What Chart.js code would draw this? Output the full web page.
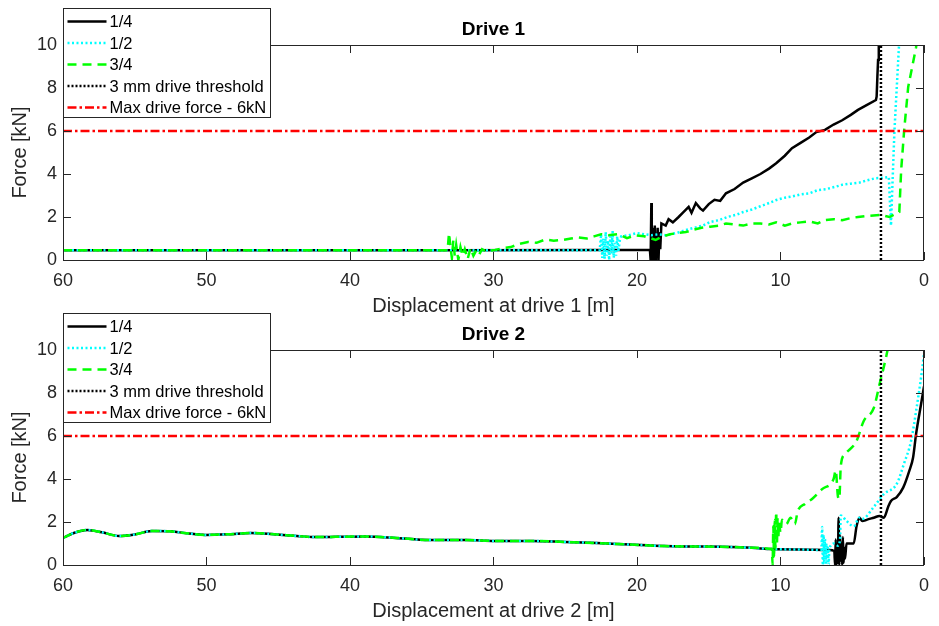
<!DOCTYPE html>
<html>
<head>
<meta charset="utf-8">
<title>Drive force vs displacement</title>
<script src="https://cdn.jsdelivr.net/npm/chart.js@4.4.1/dist/chart.umd.min.js"></script>
<style>
  html, body { margin: 0; padding: 0; background: #fff; }
  #wrap { position: relative; width: 939px; height: 626px; }
  canvas { position: absolute; left: 0; }
  #drive1 { top: 0; }
  #drive2 { top: 305px; }
</style>
</head>
<body>
<div id="wrap">
  <canvas id="drive1" width="939" height="320"></canvas>
  <canvas id="drive2" width="939" height="320"></canvas>
</div>
<script>
// ===== DATA =====
const seriesLabels = ["1/4", "1/2", "3/4", "3 mm drive threshold", "Max drive force - 6kN"];
const xTicks = [60, 50, 40, 30, 20, 10, 0];
const yTicks = [0, 2, 4, 6, 8, 10];

// Drive 1
const d1QuarterDisp = [60, 40, 33, 22.4, 19.35, 19.1, 19.05, 19.0, 18.97, 18.92, 18.88, 18.84, 18.8, 18.76, 18.72, 18.68, 18.62, 18.56, 18.5, 18.44, 18.38, 18.3, 18.0, 17.8, 17.5, 17.1, 16.8, 16.4, 16.2, 15.9, 15.6, 15.4, 15.0, 14.6, 14.2, 13.8, 13.2, 12.6, 12.0, 11.4, 10.8, 10.3, 9.7, 9.2, 8.6, 8.0, 7.5, 6.9, 6.3, 5.7, 5.1, 4.6, 4.0, 3.35, 3.3, 3.25, 3.2, 3.15];
const d1QuarterForce = [0.45, 0.45, 0.45, 0.47, 0.47, 0.47, 0.0, 2.65, 0.3, 1.5, 0.0, 1.2, 0.2, 1.6, 0.0, 1.1, 0.4, 1.5, 0.0, 1.3, 0.5, 1.7, 1.6, 1.9, 1.75, 2.0, 2.2, 2.47, 2.2, 2.65, 2.4, 2.3, 2.6, 2.8, 2.75, 3.1, 3.3, 3.6, 3.8, 4.0, 4.25, 4.5, 4.85, 5.2, 5.45, 5.7, 5.95, 6.05, 6.3, 6.5, 6.75, 6.98, 7.2, 7.44, 7.6, 8.5, 9.3, 10.5];

const d1HalfDisp = [60, 40, 22.6, 22.5, 22.42, 22.34, 22.26, 22.18, 22.1, 22.02, 21.94, 21.86, 21.78, 21.7, 21.62, 21.54, 21.46, 21.38, 21.3, 21.2, 21.1, 20.6, 20.0, 19.5, 19.0, 18.5, 18.0, 17.2, 16.6, 16.0, 15.4, 14.9, 14.3, 13.7, 13.1, 12.6, 12.0, 11.4, 10.8, 10.3, 9.7, 9.2, 8.6, 8.0, 7.4, 6.8, 6.2, 5.7, 5.1, 4.5, 4.0, 3.4, 2.9, 2.45, 2.3, 2.2, 2.06, 1.9, 1.7];
const d1HalfForce = [0.45, 0.45, 0.45, 1.2, 0.1, 1.0, 0.05, 1.3, 0.2, 0.9, 0.0, 1.1, 0.3, 1.35, 0.1, 0.8, 0.2, 1.1, 0.4, 0.9, 1.1, 1.15, 1.25, 1.2, 1.15, 1.2, 1.15, 1.26, 1.4, 1.5, 1.6, 1.77, 1.85, 2.0, 2.1, 2.23, 2.35, 2.5, 2.65, 2.79, 2.9, 2.95, 3.05, 3.1, 3.25, 3.3, 3.4, 3.5, 3.55, 3.6, 3.7, 3.8, 3.82, 3.86, 1.6, 3.5, 6.0, 8.0, 10.5];

const d1ThreeQDisp = [60, 40, 33.2, 33.1, 33.0, 32.9, 32.8, 32.7, 32.6, 32.45, 32.3, 32.15, 32.0, 31.8, 31.6, 31.4, 31.2, 31.0, 30.8, 30.5, 29.9, 29.3, 28.8, 28.2, 27.6, 27.0, 26.4, 25.8, 25.2, 24.6, 24.1, 23.5, 23.0, 22.5, 22.0, 21.3, 20.7, 20.1, 19.5, 19.0, 18.7, 18.3, 17.7, 17.2, 16.6, 16.1, 15.5, 14.9, 14.3, 13.8, 13.2, 12.6, 12.0, 11.4, 10.8, 10.3, 9.7, 9.2, 8.6, 8.0, 7.4, 6.9, 6.3, 5.7, 5.1, 4.6, 4.0, 3.0, 2.4, 1.8, 1.72, 1.59, 1.38, 1.1, 0.55, 0.45];
const d1ThreeQForce = [0.45, 0.45, 0.45, 1.25, 0.6, 0.1, 0.9, 0.2, 0.7, 0.0, 0.6, 0.2, 0.5, 0.05, 0.55, 0.2, 0.45, 0.25, 0.5, 0.4, 0.47, 0.55, 0.6, 0.75, 0.84, 0.8, 0.95, 0.9, 0.93, 1.0, 1.05, 1.0, 1.1, 1.2, 1.15, 1.2, 1.02, 1.15, 1.1, 1.0, 0.93, 1.07, 1.2, 1.25, 1.3, 1.4, 1.5, 1.55, 1.6, 1.7, 1.65, 1.6, 1.7, 1.7, 1.65, 1.75, 1.6, 1.7, 1.75, 1.8, 1.7, 1.86, 1.9, 1.85, 1.95, 2.0, 2.05, 2.1, 2.0, 2.2, 2.23, 4.19, 6.05, 8.05, 9.9, 10.5];

// Drive 2 - common start of all three curves, then each tail
const d2BaseDisp = [60, 59.2, 58.3, 57.3, 56.1, 55.0, 53.8, 52.6, 51.4, 50.1, 48.5, 46.9, 45.3, 43.7, 42.5, 41.0, 39.0, 36.8, 34.5, 31.9, 29.9, 27.3, 25.0, 22.8, 20.5, 18.1, 15.8, 13.5, 12.0, 10.6];
const d2BaseForce = [1.26, 1.5, 1.63, 1.52, 1.35, 1.42, 1.58, 1.57, 1.48, 1.4, 1.43, 1.49, 1.43, 1.35, 1.3, 1.31, 1.33, 1.26, 1.16, 1.16, 1.12, 1.12, 1.07, 1.02, 0.95, 0.88, 0.86, 0.84, 0.8, 0.74];

const d2QuarterDisp = [8.5, 6.6, 6.25, 6.2, 6.15, 6.1, 6.05, 6.0, 5.95, 5.9, 5.85, 5.8, 5.75, 5.7, 5.65, 5.6, 5.55, 5.5, 5.4, 4.9, 4.7, 4.5, 4.3, 4.0, 3.5, 3.1, 2.8, 2.5, 2.3, 1.9, 1.45, 1.03, 0.76, 0.55, 0.2, 0.0];
const d2QuarterForce = [0.72, 0.7, 0.65, 0.0, 1.2, 0.0, 0.9, 0.1, 2.2, 0.0, 1.4, 0.2, 1.0, 0.0, 1.3, 0.1, 0.8, 0.3, 1.0, 1.0, 1.8, 2.2, 2.05, 2.1, 2.2, 2.28, 2.2, 2.7, 2.98, 3.16, 3.6, 4.37, 5.0, 6.1, 7.5, 8.3];

const d2HalfDisp = [8.5, 7.15, 7.1, 7.05, 7.0, 6.95, 6.9, 6.85, 6.8, 6.75, 6.7, 6.65, 6.6, 6.5, 6.3, 6.0, 5.85, 5.8, 5.4, 4.9, 4.5, 4.3, 3.5, 2.8, 1.9, 1.4, 0.9, 0.55, 0.2, 0.0];
const d2HalfForce = [0.72, 0.7, 1.77, 0.0, 1.4, 0.1, 1.2, 0.0, 1.0, 0.2, 0.8, 0.0, 0.7, 0.9, 1.0, 0.9, 1.2, 2.3, 2.05, 1.8, 2.2, 2.14, 2.7, 3.3, 3.77, 4.7, 5.77, 7.16, 8.74, 9.8];

const d2ThreeQDisp = [10.55, 10.5, 10.45, 10.4, 10.35, 10.3, 10.25, 10.2, 10.15, 10.1, 10.0, 9.9, 9.6, 9.3, 9.0, 8.8, 8.3, 7.8, 7.1, 6.3, 6.15, 6.0, 5.9, 5.8, 5.5, 4.7, 4.2, 3.5, 3.1, 2.6, 2.4];
const d2ThreeQForce = [0.0, 1.8, 0.4, 2.1, 0.8, 2.47, 1.0, 2.2, 1.3, 2.0, 1.5, 2.1, 1.9, 2.2, 1.9, 2.5, 2.84, 3.07, 3.53, 4.0, 4.4, 3.2, 3.07, 4.6, 5.16, 5.77, 6.7, 7.3, 8.4, 9.8, 10.5];

// reference lines
const thresholdDisp = [3, 3];
const thresholdForce = [0, 10];
const maxForceDisp = [60, 0];
const maxForceVal = [6, 6];

// ===== STYLE =====
const FONT = "'Liberation Sans', Arial, Helvetica, sans-serif";
const AXIS_COLOR = "#262626";
const lineStyles = [
    { color: "#000000", width: 2.5, dash: [] },
    { color: "#00ffff", width: 2.5, dash: [2, 2.5] },
    { color: "#00ff00", width: 2.5, dash: [9, 6] },
    { color: "#000000", width: 2.5, dash: [2, 2] },
    { color: "#ff0000", width: 2.5, dash: [9, 3, 2.5, 3] }
];

function toPoints(xs, ys) {
    return xs.map((x, i) => ({ x: x, y: ys[i] }));
}

// box, inward ticks, title and legend like the original figure
const matlabFrame = {
    id: "matlabFrame",
    afterDraw(chart, args, opts) {
        const ctx = chart.ctx;
        const a = chart.chartArea;
        const xs = chart.scales.x, ys = chart.scales.y;
        ctx.save();
        ctx.strokeStyle = AXIS_COLOR;
        ctx.lineWidth = 1;
        ctx.setLineDash([]);
        ctx.beginPath();
        xTicks.forEach(v => {
            const px = Math.round(xs.getPixelForValue(v)) + 0.5;
            ctx.moveTo(px, a.bottom); ctx.lineTo(px, a.bottom - 8);
            ctx.moveTo(px, a.top); ctx.lineTo(px, a.top + 8);
        });
        yTicks.forEach(v => {
            const py = Math.round(ys.getPixelForValue(v)) + 0.5;
            ctx.moveTo(a.left, py); ctx.lineTo(a.left + 8, py);
            ctx.moveTo(a.right, py); ctx.lineTo(a.right - 8, py);
        });
        ctx.stroke();
        ctx.strokeRect(Math.round(a.left) + 0.5, Math.round(a.top) + 0.5,
            Math.round(a.width) - 1, Math.round(a.height));

        // title
        ctx.fillStyle = "#000";
        ctx.font = "bold 19px " + FONT;
        ctx.textAlign = "center";
        ctx.textBaseline = "middle";
        ctx.fillText(opts.title, (a.left + a.right) / 2, 30);

        // legend
        ctx.font = "16.5px " + FONT;
        ctx.textAlign = "left";
        let tw = 0;
        seriesLabels.forEach(l => { tw = Math.max(tw, ctx.measureText(l).width); });
        const bx = Math.round(a.left) + 0.5, by = 8.5;
        const bw = Math.round(46 + tw + 4), bh = 109;
        ctx.fillStyle = "#fff";
        ctx.fillRect(bx, by, bw, bh);
        ctx.strokeStyle = AXIS_COLOR;
        ctx.lineWidth = 1;
        ctx.strokeRect(bx, by, bw, bh);
        seriesLabels.forEach((l, i) => {
            const y = by + 13 + i * 21.5;
            const s = lineStyles[i];
            ctx.strokeStyle = s.color;
            ctx.lineWidth = s.width;
            ctx.setLineDash(s.dash);
            ctx.beginPath();
            ctx.moveTo(bx + 4, y);
            ctx.lineTo(bx + 43, y);
            ctx.stroke();
            ctx.fillStyle = "#000";
            ctx.fillText(l, bx + 46, y + 1);
        });
        ctx.restore();
    }
};

function makeChart(id, title, xTitle, curves, smooth) {
    const sets = curves.map((pts, i) => ({
        label: seriesLabels[i],
        data: pts,
        borderColor: lineStyles[i].color,
        borderWidth: lineStyles[i].width,
        borderDash: lineStyles[i].dash,
        pointRadius: 0,
        fill: false,
        tension: 0,
        cubicInterpolationMode: (smooth && i < 3) ? "monotone" : "default",
        clip: 0,
        order: 4 - i
    }));
    return new Chart(document.getElementById(id), {
        type: "line",
        data: { datasets: sets },
        options: {
            responsive: false,
            animation: false,
            layout: { padding: { top: 45, right: 6, left: 0, bottom: 0 } },
            plugins: {
                legend: { display: false },
                tooltip: { enabled: false },
                matlabFrame: { title: title }
            },
            scales: {
                x: {
                    type: "linear",
                    reverse: true,
                    min: 0, max: 60,
                    afterBuildTicks: s => { s.ticks = xTicks.map(v => ({ value: v })); },
                    afterFit: s => { s.height = 60; },
                    grid: { display: false, drawTicks: false },
                    border: { display: false },
                    ticks: { color: AXIS_COLOR, font: { family: FONT, size: 18 }, padding: 10, maxRotation: 0 },
                    title: { display: true, text: xTitle, color: AXIS_COLOR, font: { family: FONT, size: 20 }, padding: { top: 0, bottom: 2 } }
                },
                y: {
                    min: 0, max: 10,
                    afterBuildTicks: s => { s.ticks = yTicks.map(v => ({ value: v })); },
                    afterFit: s => { s.width = 63; },
                    grid: { display: false, drawTicks: false },
                    border: { display: false },
                    ticks: { color: AXIS_COLOR, font: { family: FONT, size: 18 }, padding: 6 },
                    title: { display: true, text: "Force [kN]", color: AXIS_COLOR, font: { family: FONT, size: 20 }, padding: { top: 8, bottom: 0 } }
                }
            }
        },
        plugins: [matlabFrame]
    });
}

// ===== DRIVE 1 =====
makeChart("drive1", "Drive 1", "Displacement at drive 1 [m]", [
    toPoints(d1QuarterDisp, d1QuarterForce),
    toPoints(d1HalfDisp, d1HalfForce),
    toPoints(d1ThreeQDisp, d1ThreeQForce),
    toPoints(thresholdDisp, thresholdForce),
    toPoints(maxForceDisp, maxForceVal)
], false);

// ===== DRIVE 2 =====
makeChart("drive2", "Drive 2", "Displacement at drive 2 [m]", [
    toPoints(d2BaseDisp.concat(d2QuarterDisp), d2BaseForce.concat(d2QuarterForce)),
    toPoints(d2BaseDisp.concat(d2HalfDisp), d2BaseForce.concat(d2HalfForce)),
    toPoints(d2BaseDisp.concat(d2ThreeQDisp), d2BaseForce.concat(d2ThreeQForce)),
    toPoints(thresholdDisp, thresholdForce),
    toPoints(maxForceDisp, maxForceVal)
], true);
</script>
</body>
</html>
